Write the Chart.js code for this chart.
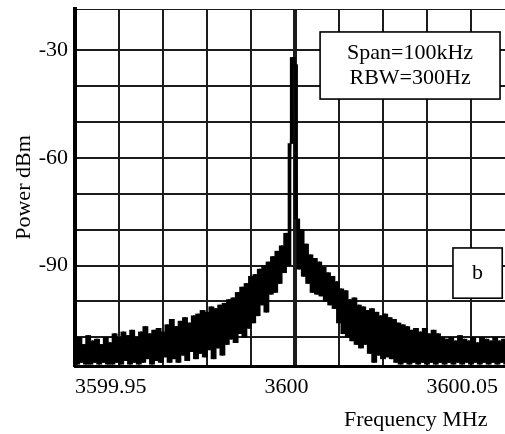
<!DOCTYPE html>
<html>
<head>
<meta charset="utf-8">
<script src="https://cdn.jsdelivr.net/npm/chart.js@4/dist/chart.umd.min.js"></script>
<style>
  html, body { margin: 0; padding: 0; overflow: hidden; background: #fff; }
  #wrap { position: absolute; left: 0; top: 0; width: 520px; height: 434px; }
</style>
</head>
<body>
<div id="wrap"><canvas id="spectrum" width="520" height="434"></canvas></div>
<script>
/* spectrum analyser trace, span 100 kHz around 3600 MHz */

// sweep: 201 points, 0.5 kHz apart
const sweepStart = 3599.95;
const sweepStep = 0.0005;
// trace power (dBm) – alternating top / bottom of the noise band
const tracePower = [
  -111, -117.5, -110, -117, -112, -117.5, -109.5, -117.5, -111, -117,
  -110.5, -117.5, -112, -117, -110, -117.5, -111.5, -117.5, -109, -117,
  -110, -117.5, -108.5, -116.5, -109.5, -117.5, -108, -117, -110, -117.5,
  -108.5, -117, -107, -116, -109, -117.5, -108, -116.5, -107.5, -117,
  -108.5, -115.5, -106.5, -117, -105, -116, -107, -117, -105.5, -115,
  -104.5, -116.5, -106, -114, -104, -116, -103.5, -114.5, -102.5, -115.5,
  -103, -113.5, -101.5, -116, -102, -113, -101, -115, -100.5, -112,
  -99.5, -110.5, -99, -111.5, -97.5, -109, -96, -110, -95, -107.5,
  -93, -106, -92.5, -104, -91, -101, -90, -103, -89, -98,
  -87.5, -97.5, -86, -95, -84.5, -92, -81, -90, -56, -32,
  -34, -77, -91, -80, -93, -84, -95, -87, -97.5, -88,
  -98, -89, -98.5, -90.5, -100, -92, -101, -93, -102, -94.5,
  -106, -96.5, -109, -97, -110, -99.5, -111, -99, -112, -101,
  -113, -101.5, -112, -102.5, -114.5, -102, -117, -103, -115, -104,
  -116, -103.5, -115.5, -104.5, -116, -105, -117, -106, -117.5, -106.5,
  -117, -107, -117.5, -108, -117, -107.5, -117.5, -108.5, -117, -107.5,
  -117.5, -109, -117, -108, -117.5, -109, -117, -110, -117.5, -110.5,
  -117, -110, -117.5, -111, -117, -109.5, -117.5, -110.5, -117, -111,
  -117.5, -110, -117, -111.5, -117.5, -110, -117, -110.5, -117.5, -111,
  -117, -110, -117.5, -111, -117, -110.5, -117.5, -110, -117, -111,
  -117.5
];

const xMin = 3599.95, xMax = 3600.05, xStep = 0.01;
const xCentre = 3600;
const xTickValues = [3599.95, 3600, 3600.05];
const yMin = -118, yMax = -18.5, yStep = 10;
const yTickValues = [-30, -60, -90];

const FONT = "'Liberation Serif', 'Times New Roman', serif";
const GRID = '#1c1c1c';

const noteBoxes = [
  { lines: ['Span=100kHz', 'RBW=300Hz'], x0: 3600.0057, x1: 3600.0466, y0: -24.9, y1: -43.6 },
  { lines: ['b'], x0: 3600.0359, x1: 3600.0471, y0: -85.1, y1: -99.1 },
];

// white boxes with text, placed in data units
const notesPlugin = {
  id: 'notes',
  afterDatasetsDraw(chart) {
    const { ctx, scales: { x, y } } = chart;
    ctx.save();
    ctx.font = '22px ' + FONT;
    ctx.textAlign = 'center';
    ctx.textBaseline = 'middle';
    noteBoxes.forEach(b => {
      const l = x.getPixelForValue(b.x0), r = x.getPixelForValue(b.x1);
      const t = y.getPixelForValue(b.y0), btm = y.getPixelForValue(b.y1);
      ctx.fillStyle = '#fff';
      ctx.fillRect(l, t, r - l, btm - t);
      ctx.lineWidth = 1.6;
      ctx.strokeStyle = '#000';
      ctx.strokeRect(l, t, r - l, btm - t);
      ctx.fillStyle = '#000';
      const cx = (l + r) / 2, cy = (t + btm) / 2;
      b.lines.forEach((txt, k) => {
        ctx.fillText(txt, cx, cy + (k - (b.lines.length - 1) / 2) * 25);
      });
    });
    ctx.restore();
  }
};

const points = tracePower.map((p, i) => ({ x: sweepStart + i * sweepStep, y: p }));
// vertical extent the trace sweeps between neighbouring points (fills the noise band)
const sweeps = tracePower.slice(1).map((p, i) => ({
  x: sweepStart + (i + 0.5) * sweepStep,
  y: [Math.min(p, tracePower[i]), Math.max(p, tracePower[i])],
}));

new Chart(document.getElementById('spectrum'), {
  type: 'line',
  data: {
    datasets: [{
      type: 'bar',
      data: sweeps,
      backgroundColor: '#000',
      borderWidth: 0,
      barThickness: 3,
      grouped: false,
    }, {
      data: points,
      borderColor: '#000',
      borderWidth: 1.5,
      borderJoinStyle: 'bevel',
      pointRadius: 0,
      tension: 0,
    }]
  },
  options: {
    responsive: false,
    animation: false,
    events: [],
    layout: { padding: { top: 9, right: 5, left: 0, bottom: 0 } },
    plugins: { legend: { display: false }, tooltip: { enabled: false } },
    scales: {
      x: {
        type: 'linear',
        offset: false,
        min: xMin, max: xMax,
        ticks: { stepSize: xStep, display: false },
        grid: {
          offset: false,
          color: GRID,
          drawTicks: false,
          lineWidth: (c) => (c.tick && Math.abs(c.tick.value - xCentre) < 1e-6 ? 4 : 2),
        },
        border: { color: '#000', width: 3 },
        afterFit: (s) => { s.height = 0; },
      },
      xl: {
        type: 'linear',
        position: 'bottom',
        min: xMin, max: 3600.054,
        afterBuildTicks: (s) => { s.ticks = xTickValues.map(v => ({ value: v })); },
        ticks: {
          align: 'inner',
          padding: 8,
          color: '#000',
          font: { family: FONT, size: 22 },
          callback: (v) => String(v),
        },
        grid: { display: false, drawTicks: false },
        border: { display: false },
        title: {
          display: true,
          text: 'Frequency MHz     ',
          align: 'end',
          color: '#000',
          font: { family: FONT, size: 22 },
          padding: { top: 0, bottom: 1 },
        },
        afterFit: (s) => { s.height = 68; },
      },
      y: {
        min: yMin, max: yMax,
        ticks: {
          stepSize: yStep,
          padding: 7,
          color: '#000',
          font: { family: FONT, size: 22 },
          callback: (v) => (yTickValues.includes(v) ? String(v) : ''),
        },
        grid: {
          color: GRID,
          drawTicks: false,
          lineWidth: (c) => (c.tick && c.tick.value === yMax ? 1 : 2),
        },
        border: { color: '#000', width: 4 },
        title: {
          display: true,
          text: 'Power dBm',
          color: '#000',
          font: { family: FONT, size: 22 },
          padding: { top: 11, bottom: 0 },
        },
        afterFit: (s) => { s.width = 75; s.paddingTop = 0; s.paddingBottom = 0; },
      }
    }
  },
  plugins: [notesPlugin]
});
</script>
</body>
</html>
